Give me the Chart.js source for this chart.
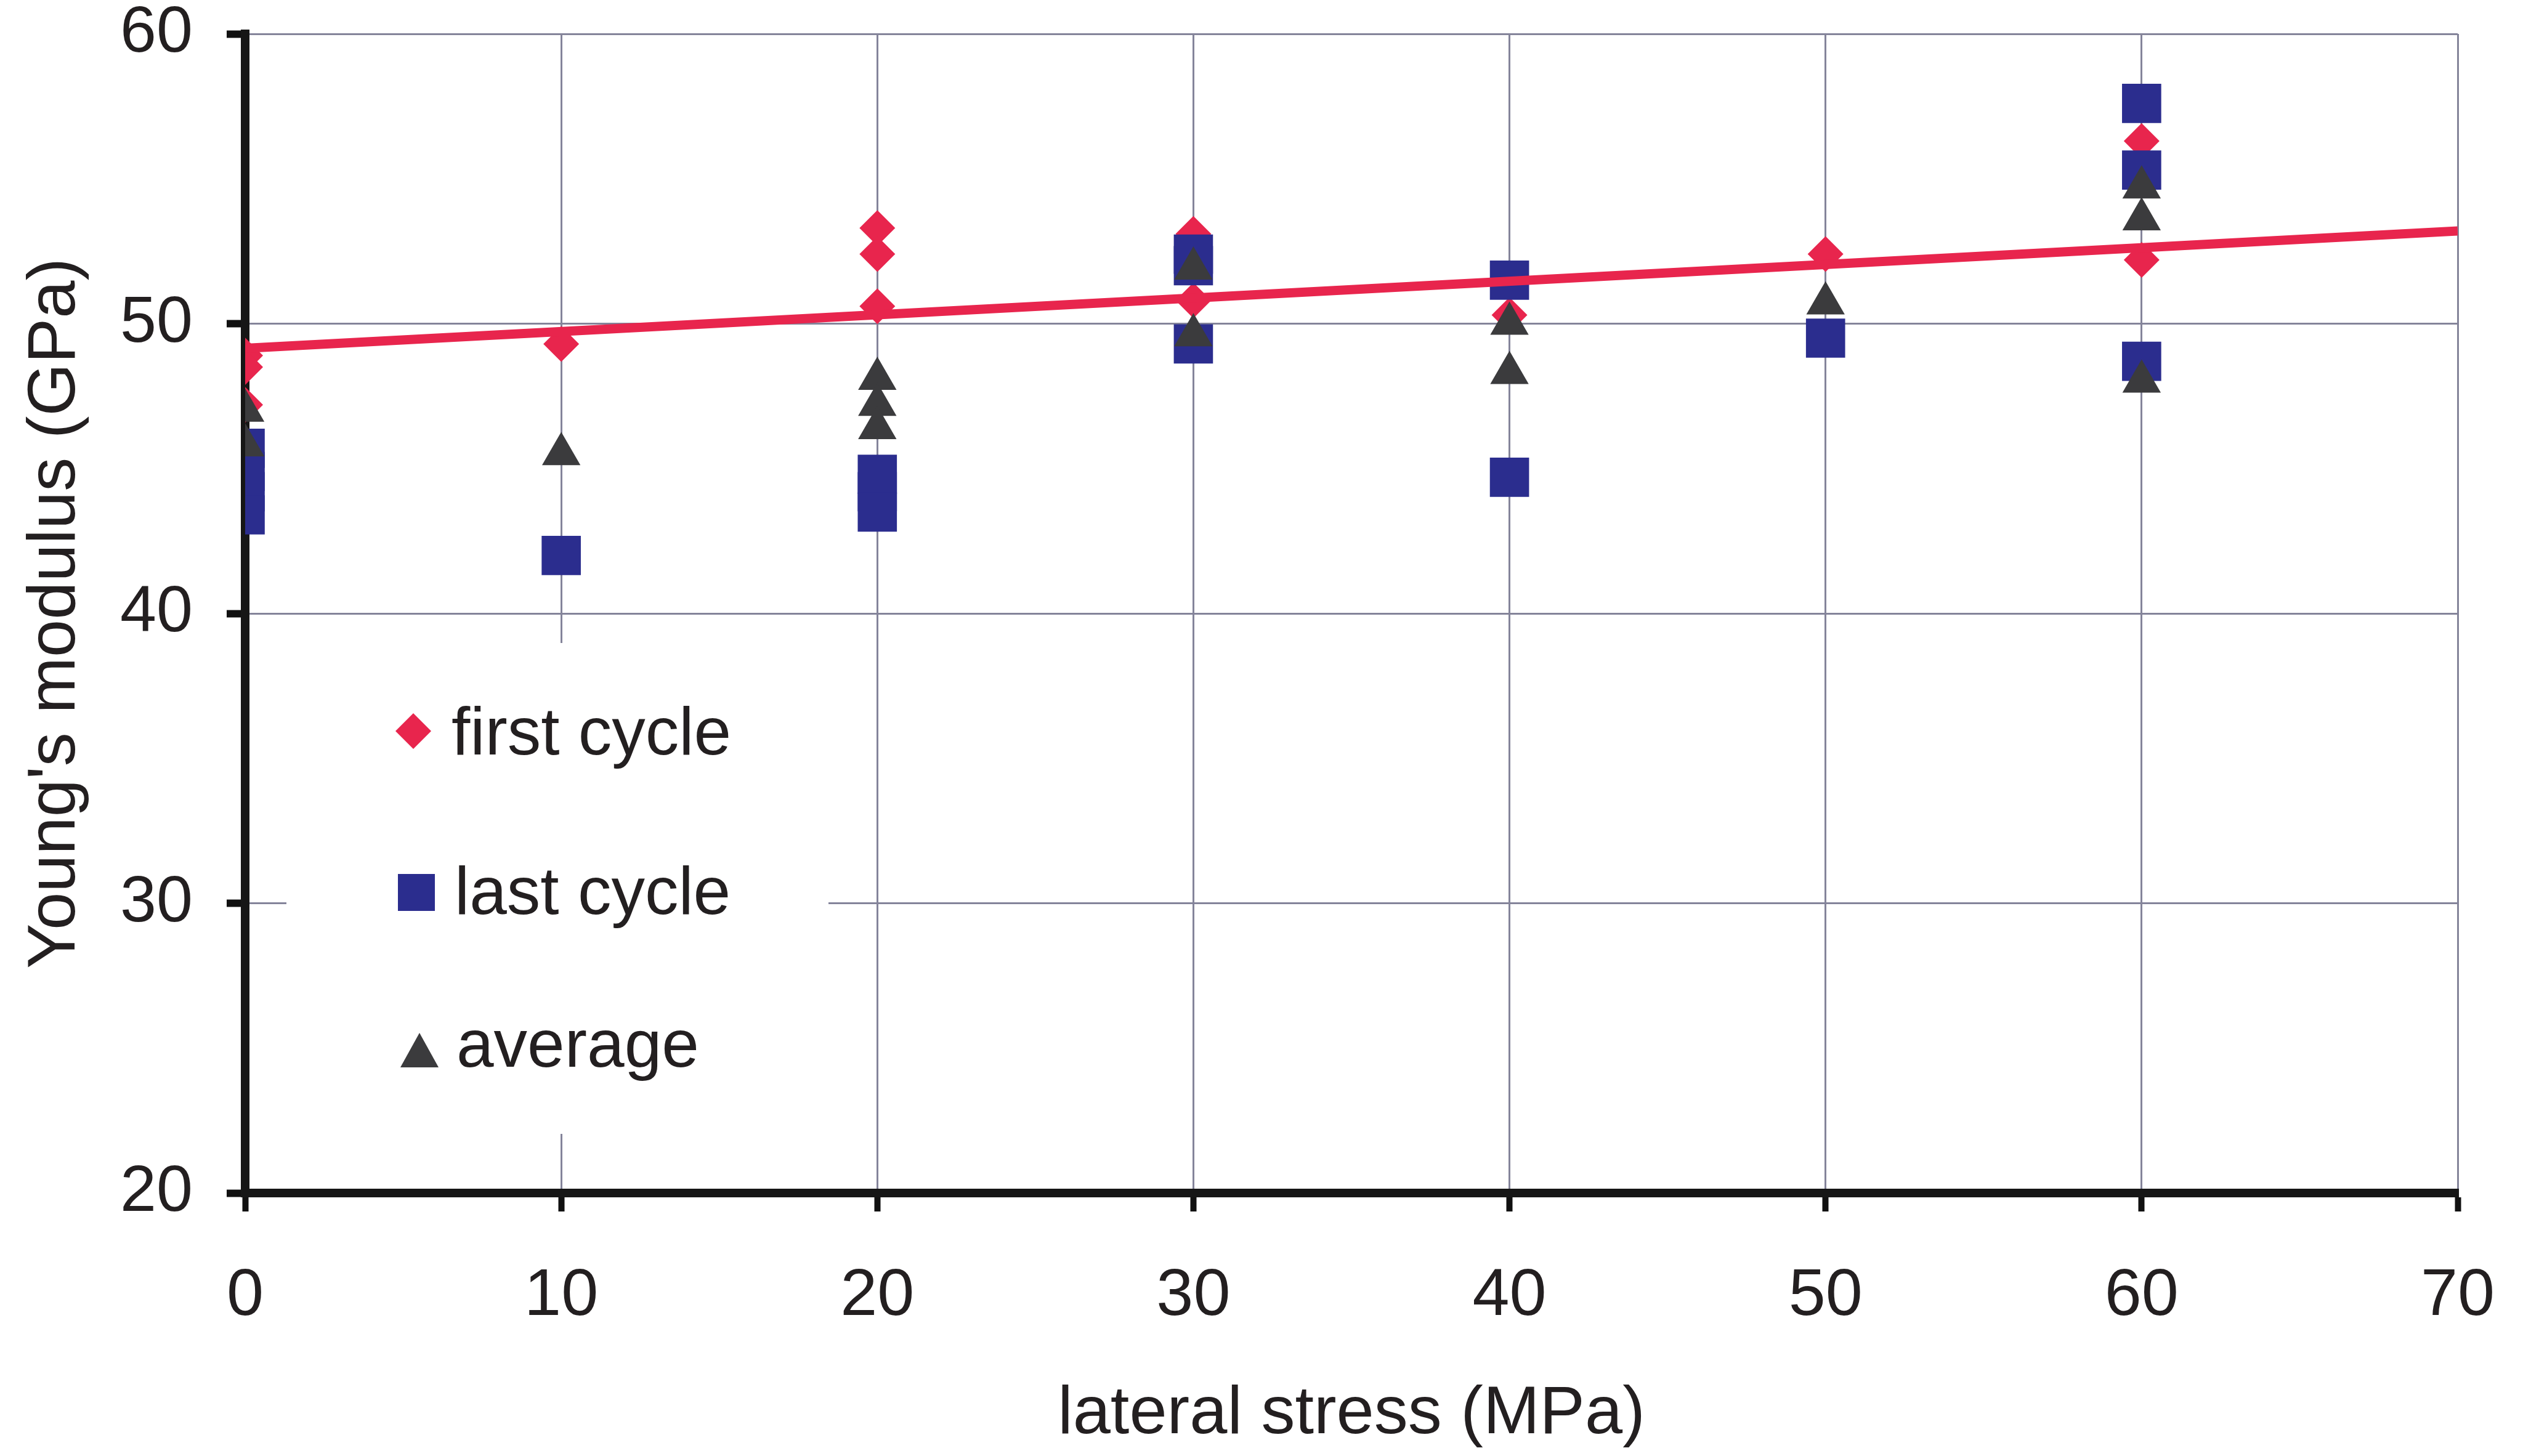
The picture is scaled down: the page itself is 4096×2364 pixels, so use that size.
<!DOCTYPE html>
<html><head><meta charset="utf-8">
<script src="https://cdn.jsdelivr.net/npm/chart.js@4.4.1/dist/chart.umd.min.js"></script>
<style>html,body{margin:0;padding:0;background:#fff;overflow:hidden}#wrap{width:4096px;height:2364px;position:relative}</style>
</head><body><div id="wrap"><canvas id="c" width="4096" height="2364"></canvas></div>
<script>
// ---- data ----
const xTickLabels = [0, 10, 20, 30, 40, 50, 60, 70];
const yTickLabels = [20, 30, 40, 50, 60];
const seriesNames = ['first cycle', 'last cycle', 'average'];

const firstCycleX = [0, 0, 0, 10, 20, 20, 20, 30, 30, 40, 50, 60, 60];
const firstCycleY = [48.9, 48.5, 47.2, 49.3, 53.3, 52.4, 50.6, 53.1, 50.8, 50.3, 52.4, 56.3, 52.2];

const lastCycleX = [0, 0, 0, 0, 10, 20, 20, 20, 30, 30, 30, 40, 40, 50, 60, 60, 60];
const lastCycleY = [45.7, 44.9, 44.2, 43.4, 42.0, 44.8, 44.2, 43.5, 52.4, 52.0, 49.3, 51.5, 44.7, 49.5, 57.6, 55.3, 48.7];

const averageX = [0, 0, 10, 20, 20, 20, 30, 30, 40, 40, 50, 60, 60, 60];
const averageY = [47.0, 45.8, 45.5, 48.1, 47.2, 46.4, 51.9, 49.6, 50.0, 48.3, 50.7, 54.7, 53.6, 48.0];

const trendX = [0, 70];
const trendY = [49.15, 53.2];

// ---- styles ----
const RED = '#e8254d', BLUE = '#2b2d8e', GRAY = '#3b3b3d', TXT = '#231f20';
const FONT = "'Liberation Sans', Arial, sans-serif";
const pts = (xs, ys) => xs.map((x, i) => ({x: x, y: ys[i]}));

const CH_W = 4096, CH_H = 2364;
const AREA = {left: 398, right: 3990, top: 55, bottom: 1937};

const legendPlugin = {
  id: 'boxLegend',
  beforeDatasetsDraw(chart) {
    const ctx = chart.ctx;
    ctx.save();
    ctx.fillStyle = '#ffffff';
    ctx.fillRect(465, 1044, 880, 797);
    const rows = [
      {shape: 'diamond', color: RED, mx: 671, my: 1187, tx: 733, ty: 1225},
      {shape: 'square', color: BLUE, mx: 676, my: 1449, tx: 738, ty: 1484},
      {shape: 'triangle', color: GRAY, mx: 681, my: 1705, tx: 741, ty: 1732}
    ];
    rows.forEach((r, i) => {
      ctx.fillStyle = r.color;
      ctx.beginPath();
      if (r.shape === 'diamond') {
        const s = 29;
        ctx.moveTo(r.mx, r.my - s); ctx.lineTo(r.mx + s, r.my);
        ctx.lineTo(r.mx, r.my + s); ctx.lineTo(r.mx - s, r.my);
      } else if (r.shape === 'square') {
        const s = 30;
        ctx.rect(r.mx - s, r.my - s, 2 * s, 2 * s);
      } else {
        const w = 31, h = 56;
        ctx.moveTo(r.mx, r.my - h / 2); ctx.lineTo(r.mx + w, r.my + h / 2);
        ctx.lineTo(r.mx - w, r.my + h / 2);
      }
      ctx.closePath();
      ctx.fill();
      ctx.fillStyle = TXT;
      ctx.font = '109px ' + FONT;
      ctx.textAlign = 'left';
      ctx.textBaseline = 'alphabetic';
      ctx.fillText(seriesNames[i], r.tx, r.ty);
    });
    ctx.restore();
  }
};

new Chart(document.getElementById('c'), {
  type: 'scatter',
  data: {
    datasets: [
      {label: seriesNames[0], data: pts(firstCycleX, firstCycleY), pointStyle: 'rectRot', pointRadius: 29,
       backgroundColor: RED, borderColor: RED, borderWidth: 0, order: 4},
      {label: seriesNames[1], data: pts(lastCycleX, lastCycleY), pointStyle: 'rect', pointRadius: 45,
       backgroundColor: BLUE, borderColor: BLUE, borderWidth: 0, order: 3},
      {label: seriesNames[2], data: pts(averageX, averageY), pointStyle: 'triangle', pointRadius: 36,
       backgroundColor: GRAY, borderColor: GRAY, borderWidth: 0, order: 2},
      {label: 'trend', data: pts(trendX, trendY), showLine: true, pointRadius: 0, borderColor: RED,
       borderWidth: 15, order: 1}
    ]
  },
  options: {
    responsive: false,
    animation: false,
    devicePixelRatio: 1,
    layout: {padding: {left: 0, top: AREA.top, right: CH_W - AREA.right, bottom: 0}},
    plugins: {legend: {display: false}, tooltip: {enabled: false}},
    scales: {
      x: {
        type: 'linear',
        min: xTickLabels[0], max: xTickLabels[xTickLabels.length - 1],
        afterBuildTicks: s => { s.ticks = xTickLabels.map(v => ({value: v})); },
        afterFit: s => { s.height = CH_H - AREA.bottom; s.paddingLeft = 0; s.paddingRight = 0; },
        grid: {color: '#84849a', lineWidth: 3, drawTicks: true, tickLength: 30, tickColor: '#111', tickWidth: 10},
        border: {display: true, color: '#161616', width: 14},
        ticks: {color: TXT, font: {family: FONT, size: 108, lineHeight: 1}, padding: 84, maxRotation: 0,
                callback: v => String(v)},
        title: {display: true, text: 'lateral stress (MPa)', color: TXT, font: {family: FONT, size: 110},
                padding: {top: 0, bottom: 1}}
      },
      y: {
        type: 'linear',
        min: yTickLabels[0], max: yTickLabels[yTickLabels.length - 1],
        afterBuildTicks: s => { s.ticks = yTickLabels.map(v => ({value: v})); },
        afterFit: s => { s.width = AREA.left; s.paddingTop = 0; s.paddingBottom = 0; },
        grid: {color: '#84849a', lineWidth: 3, drawTicks: true, tickLength: 30, tickColor: '#111', tickWidth: 12},
        border: {display: true, color: '#161616', width: 14},
        ticks: {color: TXT, font: {family: FONT, size: 106, lineHeight: 1}, padding: 55,
                callback: v => String(v)},
        title: {display: true, text: "Young's modulus (GPa)", color: TXT, font: {family: FONT, size: 110},
                padding: {top: 25, bottom: 0}}
      }
    }
  },
  plugins: [legendPlugin]
});
</script></body></html>
